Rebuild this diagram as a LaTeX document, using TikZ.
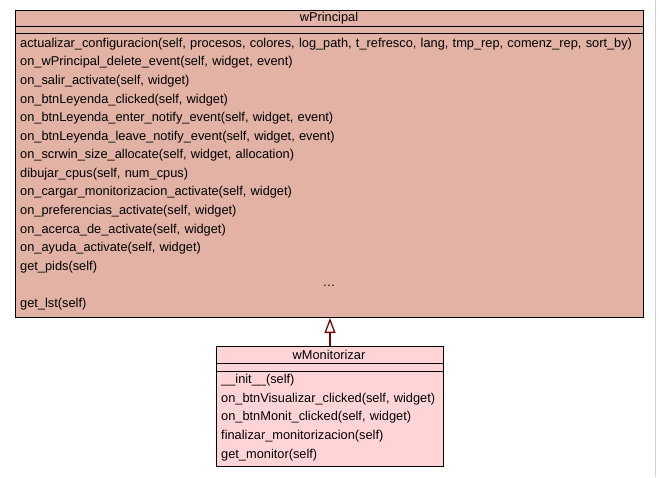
\documentclass[tikz,border=0pt]{standalone}
\usepackage{fontspec}
\setmainfont{Liberation Sans}[WordSpace=1.2]
\usetikzlibrary{arrows.meta,positioning}
\definecolor{princfill}{HTML}{E2B2A4}
\definecolor{monifill}{HTML}{FFD4D7}
\definecolor{genred}{HTML}{800000}
\definecolor{edgegrey}{HTML}{D4D4D4}
\tikzset{
    every picture/.style={line join=miter},
    classbox/.style={draw=black,line width=1pt,anchor=north west,inner sep=0pt},
    classname/.style={inner sep=0pt,font=\fontsize{12.8}{14}\selectfont},
    method/.style={anchor=west,inner sep=0pt,font=\fontsize{12.8}{14}\selectfont},
    sepline/.style={draw=black,line width=1pt},
    generalize/.style={draw=genred,line width=2pt,
      -{Triangle[open,length=15pt,width=11pt,line width=1.3pt,fill=white]}}
}
\begin{document}
\begin{tikzpicture}[x=1pt,y=-1pt]
  \useasboundingbox (0,0) rectangle (659,477);
  \draw[edgegrey,line width=1pt] (655.5,0) -- (655.5,477);
  % superclass
  \node[classbox,fill=princfill,minimum width=628pt,minimum height=307pt]
    (principal) at (15,10) {};
  \node[classname] (principalname) at (329,18) {wPrincipal};
  \draw[sepline] (15,26) -- (643,26);
  \draw[sepline] (15,33.5) -- (643,33.5);
  \foreach \m [count=\i from 0] in {
      {actualizar\_configuracion(self, procesos, colores, log\_path, t\_refresco, lang, tmp\_rep, comenz\_rep, sort\_by)},
      {on\_wPrincipal\_delete\_event(self, widget, event)},
      {on\_salir\_activate(self, widget)},
      {on\_btnLeyenda\_clicked(self, widget)},
      {on\_btnLeyenda\_enter\_notify\_event(self, widget, event)},
      {on\_btnLeyenda\_leave\_notify\_event(self, widget, event)},
      {on\_scrwin\_size\_allocate(self, widget, allocation)},
      {dibujar\_cpus(self, num\_cpus)},
      {on\_cargar\_monitorizacion\_activate(self, widget)},
      {on\_preferencias\_activate(self, widget)},
      {on\_acerca\_de\_activate(self, widget)},
      {on\_ayuda\_activate(self, widget)},
      {get\_pids(self)}}
    \node[method] (pm\i) at (20,{44+18.57*\i}) {\m};
  \node[classname] (pdots) at (329,286) {\dots};
  \node[method] (plast) at (20,304) {get\_lst(self)};
  % subclass
  \node[classbox,fill=monifill,minimum width=227pt,minimum height=120pt]
    (monitor) at (216,346) {};
  \node[classname] (monitorname) at (329,354.5) {wMonitorizar};
  \draw[sepline] (216,363) -- (443,363);
  \draw[sepline] (216,371) -- (443,371);
  \foreach \m [count=\i from 0] in {
      {\_\_init\_\_(self)},
      {on\_btnVisualizar\_clicked(self, widget)},
      {on\_btnMonit\_clicked(self, widget)},
      {finalizar\_monitorizacion(self)},
      {get\_monitor(self)}}
    \node[method] (mm\i) at (221,{380+18.75*\i}) {\m};
  \draw[generalize] (monitor.north) -- (monitor.north |- principal.south);
\end{tikzpicture}
\end{document}
